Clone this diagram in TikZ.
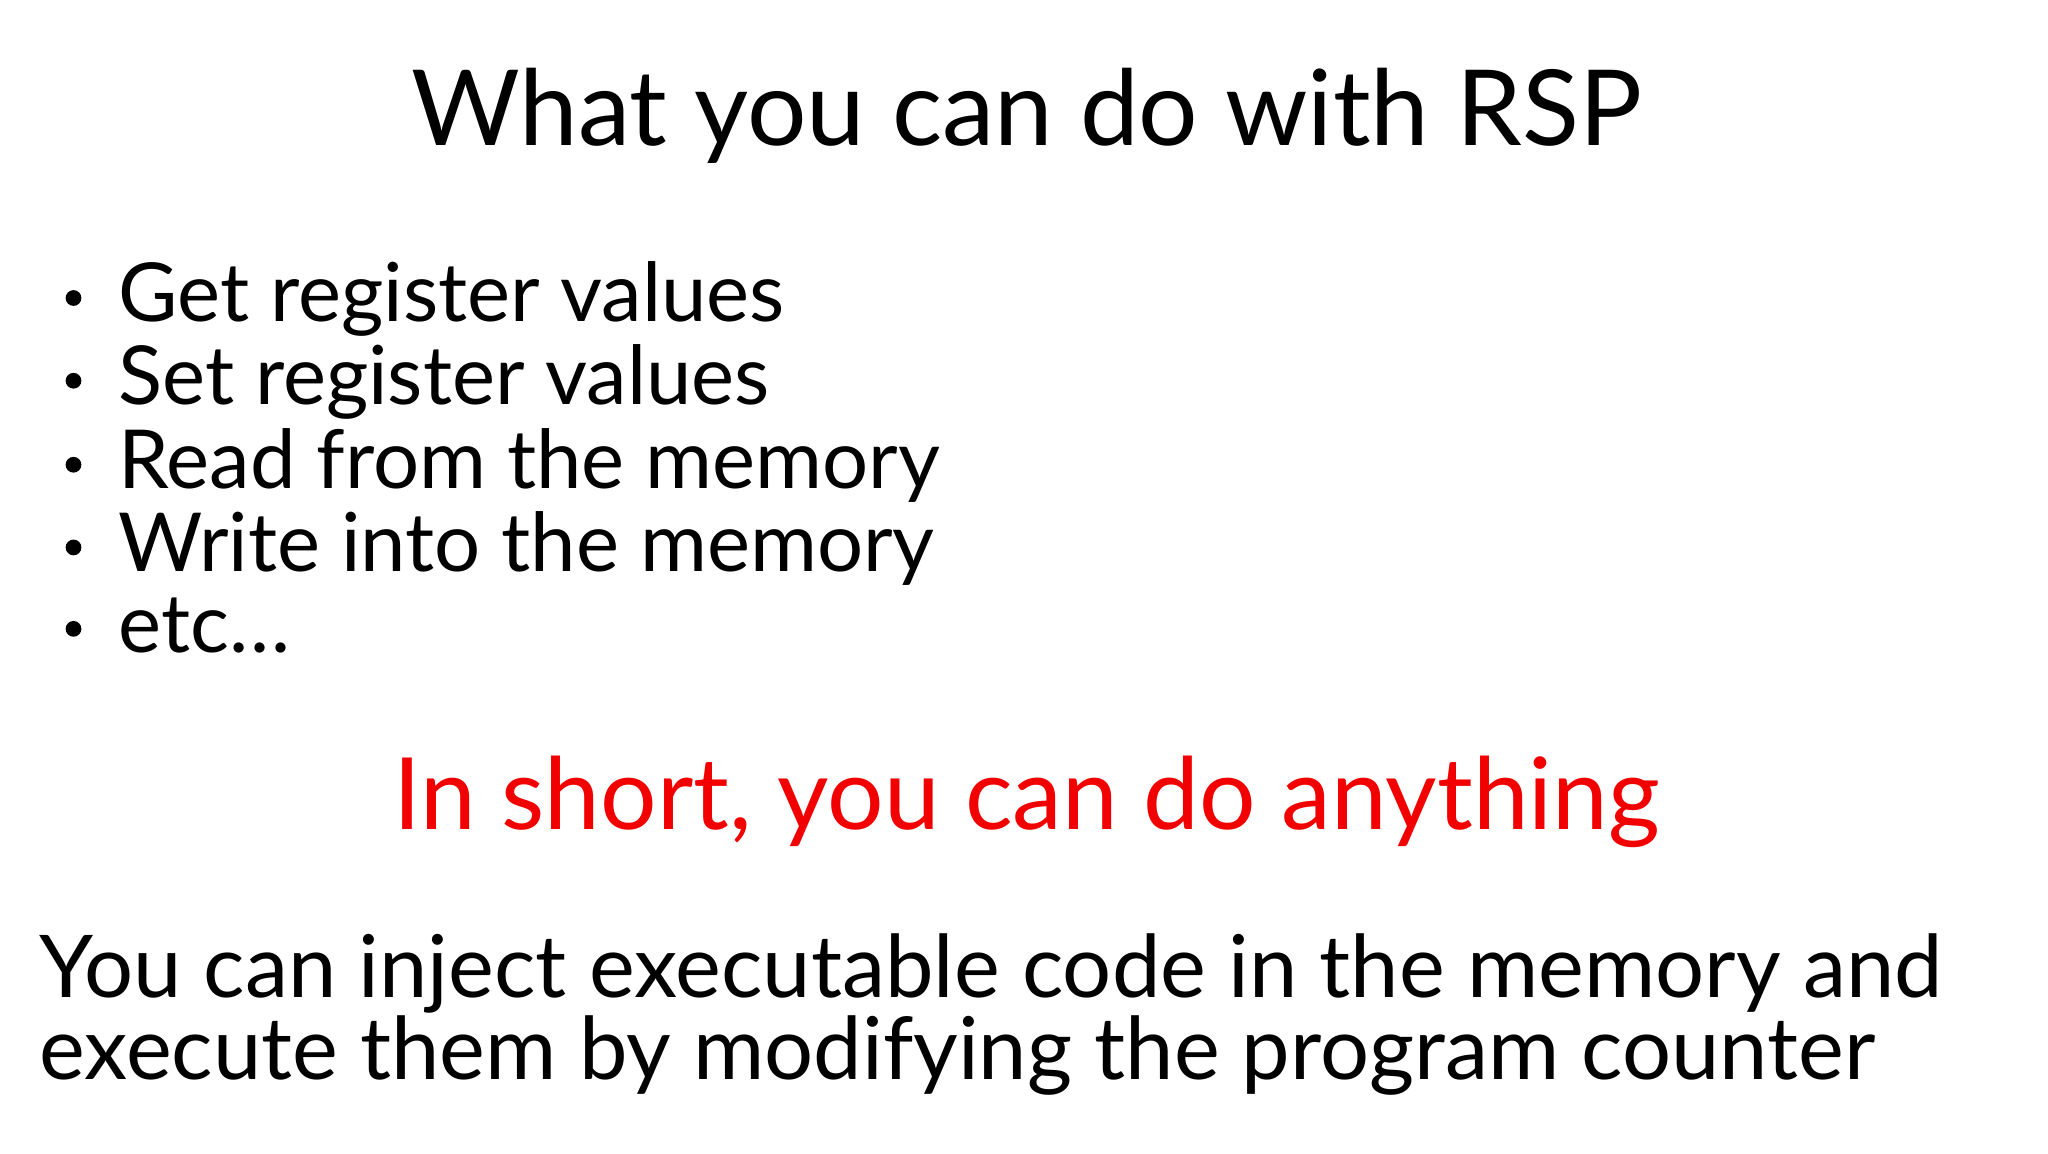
\documentclass[tikz,border=0pt]{standalone}
\usepackage{fontspec}
\setmainfont{Lato}
\begin{document}
\begin{tikzpicture}[x=1pt,y=-1pt,
  title/.style={font=\fontsize{80}{90}\selectfont, anchor=base, inner sep=0},
  item/.style={font=\fontsize{62}{70}\selectfont, anchor=base west, inner sep=0},
  dot/.style={circle, fill=black, inner sep=0, minimum size=12pt},
  bigred/.style={font=\fontsize{76}{86}\selectfont, anchor=base, inner sep=0, text=red!95!black},
  body/.style={font=\fontsize{66}{74}\selectfont, anchor=base west, inner sep=0}]
\useasboundingbox (0,0) rectangle (1560,879);
\node[title] (t) at (782,111) {What you can do with RSP};
\node[dot] (d1) at (56,227) {}; \node[item] (i1) at (90,245) {Get register values};
\node[dot] (d2) at (56,290) {}; \node[item] (i2) at (90,308) {Set register values};
\node[dot] (d3) at (56,354) {}; \node[item] (i3) at (90,372) {Read from the memory};
\node[dot] (d4) at (56,417) {}; \node[item] (i4) at (90,435) {Write into the memory};
\node[dot] (d5) at (56,479) {}; \node[item] (i5) at (90,497) {etc\ldots};
\node[bigred] (r) at (782,632) {In short, you can do anything};
\node[body] (b1) at (30,760) {You can inject executable code in the memory and};
\node[body] (b2) at (30,822) {execute them by modifying the program counter};
\end{tikzpicture}
\end{document}
